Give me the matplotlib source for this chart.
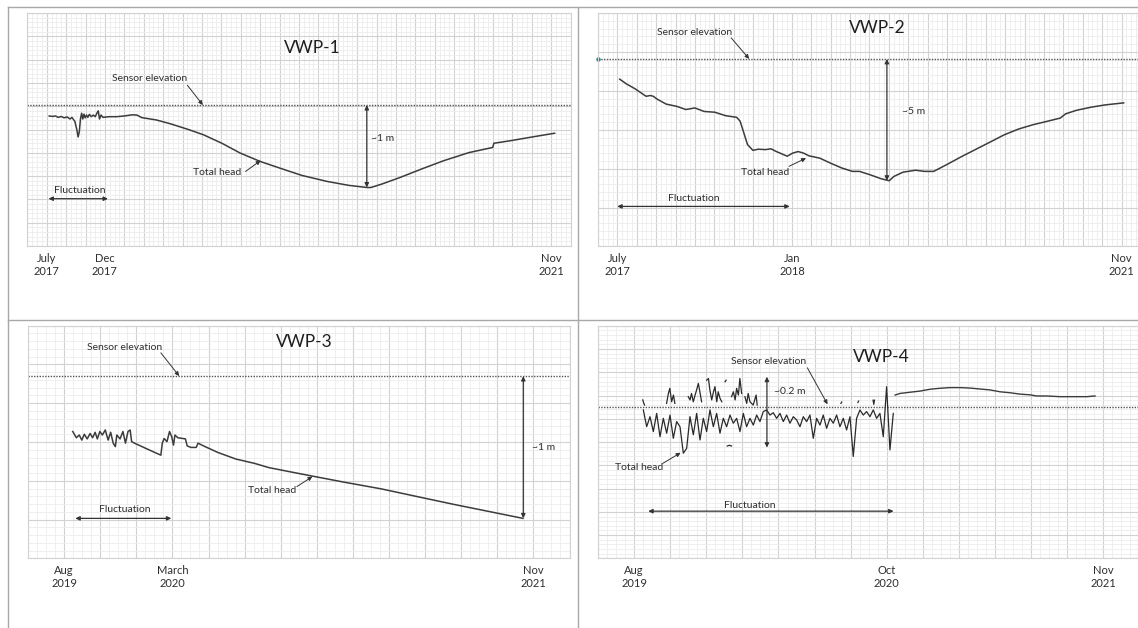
import numpy as np
import matplotlib.pyplot as plt
from matplotlib.ticker import MultipleLocator, AutoMinorLocator, FuncFormatter
from matplotlib.lines import Line2D

plt.rcParams['font.family'] = ['Lato', 'DejaVu Sans']

# ---- data (x in grid columns, y in grid rows of each panel) ----
# VWP-1
p1_x = [1.13, 1.3, 1.45, 1.6, 1.75, 1.9, 2.05, 2.2, 2.3, 2.45, 2.55, 2.62, 2.68, 2.74, 2.80,
        2.86, 2.92, 2.98, 3.05, 3.12, 3.2, 3.3, 3.4, 3.5, 3.6, 3.66, 3.72, 3.8, 3.9, 4.2,
        4.6, 5.0, 5.4, 5.65, 5.9, 6.65, 7.40, 8.34, 9.09, 10.03, 10.97, 12.00, 13.03, 14.15,
        15.46, 16.59, 17.53, 17.71, 18.28, 19.21, 20.34, 21.46, 22.77, 23.99, 24.05, 24.84,
        25.96, 27.18]
p1_y = [5.58, 5.56, 5.58, 5.52, 5.56, 5.50, 5.54, 5.45, 5.52, 5.35, 5.00, 4.68, 4.90, 5.45, 5.70,
        5.45, 5.66, 5.50, 5.62, 5.52, 5.65, 5.55, 5.62, 5.55, 5.72, 5.80, 5.45, 5.62, 5.52, 5.55,
        5.55, 5.58, 5.63, 5.62, 5.51, 5.41, 5.24, 4.99, 4.77, 4.41, 3.99, 3.63, 3.34, 3.03,
        2.77, 2.60, 2.51, 2.51, 2.66, 2.94, 3.31, 3.66, 4.01, 4.23, 4.41, 4.51,
        4.67, 4.84]
sensor1 = 6.05

# VWP-2
p2_x = [1.12, 1.46, 1.92, 2.48, 2.70, 2.85, 3.04, 3.51, 4.07, 4.53, 5.00, 5.47, 6.03, 6.59,
        7.15, 7.33, 7.52, 7.71, 7.99, 8.26, 8.64, 8.92, 9.20, 9.48, 9.76, 10.04, 10.32,
        10.60, 10.88, 11.44, 12.00, 12.56, 13.12, 13.49, 14.05, 14.61, 15.02, 15.26, 15.73,
        16.38, 16.85, 17.31, 17.97, 18.71, 19.46, 20.21, 20.95, 21.70, 22.44, 23.19, 23.84,
        24.12, 24.68, 25.43, 26.18, 27.11]
p2_y = [4.30, 4.18, 4.05, 3.86, 3.88, 3.86, 3.79, 3.66, 3.60, 3.52, 3.56, 3.47, 3.45, 3.36,
        3.32, 3.22, 2.92, 2.62, 2.47, 2.50, 2.49, 2.51, 2.44, 2.38, 2.32, 2.40, 2.44,
        2.40, 2.33, 2.27, 2.14, 2.02, 1.93, 1.93, 1.84, 1.74, 1.69, 1.80, 1.91,
        1.96, 1.93, 1.93, 2.10, 2.30, 2.49, 2.68, 2.87, 3.02, 3.13, 3.22, 3.30,
        3.41, 3.50, 3.58, 3.64, 3.69]
sensor2 = 4.82

# VWP-3
p3_x = [1.24, 1.34, 1.42, 1.49, 1.56, 1.64, 1.72, 1.79, 1.86, 1.92, 1.99, 2.06, 2.14, 2.22,
        2.29, 2.36, 2.42, 2.46, 2.55, 2.63, 2.70, 2.77, 2.83, 2.87, 2.95, 3.30, 3.68, 3.72,
        3.77, 3.85, 3.92, 3.98, 4.03, 4.07, 4.15, 4.36, 4.41, 4.51, 4.66, 4.71, 4.86, 5.26,
        5.76, 6.27, 6.67, 7.27, 7.88, 8.78, 9.79, 10.79, 11.80, 12.81, 13.71]
p3_y = [3.27, 3.11, 3.18, 3.05, 3.20, 3.08, 3.22, 3.11, 3.25, 3.08, 3.27, 3.18, 3.31, 3.05,
        3.25, 2.97, 2.88, 3.18, 3.08, 3.27, 2.97, 3.27, 3.31, 3.01, 2.97, 2.82, 2.66, 2.97,
        3.09, 3.01, 3.27, 3.14, 2.92, 3.18, 3.11, 3.08, 2.90, 2.86, 2.86, 2.97, 2.90, 2.73,
        2.56, 2.45, 2.34, 2.23, 2.12, 1.96, 1.79, 1.59, 1.39, 1.20, 1.03]
sensor3 = 4.70

# VWP-4 : noisy record (evenly sampled), fragments above sensor, and later smooth record
p4_noisy_y = [6.38, 5.66, 6.09, 5.45, 6.23, 5.23, 6.02, 5.38, 6.16, 5.16, 5.88, 5.66, 4.52, 4.73,
              6.09, 5.31, 6.23, 5.09, 6.02, 5.45, 6.38, 5.66, 6.23, 5.38, 6.02, 5.66, 6.16, 5.81,
              6.02, 5.45, 6.23, 5.66, 6.02, 5.73, 6.16, 5.88, 6.31, 6.38, 6.16, 6.26, 6.02, 6.23,
              5.88, 6.16, 5.81, 6.09, 5.95, 5.66, 6.09, 5.88, 6.16, 5.16, 6.02, 5.73, 6.16, 5.59,
              6.02, 5.81, 6.16, 5.66, 6.02, 5.52, 6.09, 4.38, 6.02, 6.38, 6.16, 6.31, 6.09, 6.38,
              6.02, 6.23, 5.23, 7.38, 4.66, 6.23]
p4_noisy_start, p4_noisy_end = 1.256, 8.18
p4_frag_x = [1.24, 1.27, 1.29, np.nan,
             1.90, 1.95, 1.99, 2.04, 2.09, 2.13, np.nan,
             2.50, 2.55, 2.59, 2.64, 2.69, 2.73, 2.78, 2.83, 2.87, np.nan,
             3.01, 3.06, 3.10, 3.15, 3.20, 3.24, 3.29, 3.33, 3.38, 3.43, np.nan,
             3.52, 3.55, np.nan,
             3.58, 3.64, 3.70, np.nan,
             3.70, 3.75, 3.80, 3.84, 3.89, 3.93, 3.98, np.nan,
             4.07, 4.12, 4.16, 4.21, 4.30, 4.38, 4.41, np.nan,
             6.73, 6.75, np.nan, 7.20, 7.22, np.nan, 7.62, 7.64, 7.66]
p4_frag_y = [6.81, 6.66, 6.59, np.nan,
             6.66, 7.09, 7.31, 6.73, 7.02, 6.66, np.nan,
             6.95, 6.81, 7.09, 6.73, 7.02, 7.23, 7.52, 7.09, 6.73, np.nan,
             7.66, 7.73, 7.23, 6.81, 7.16, 7.38, 6.73, 7.16, 6.88, 6.73, np.nan,
             7.59, 7.66, np.nan,
             4.83, 4.86, 4.83, np.nan,
             6.95, 7.16, 6.81, 7.31, 7.02, 7.73, 7.09, np.nan,
             6.95, 6.66, 7.09, 6.73, 6.59, 7.02, 6.59, np.nan,
             6.66, 6.72, np.nan, 6.70, 6.76, np.nan, 6.80, 6.62, 6.80]
p4_smooth_x = [8.23, 8.37, 8.64, 8.92, 9.20, 9.47, 9.75, 10.03, 10.30, 10.58, 10.86, 11.14,
               11.41, 11.69, 11.97, 12.15, 12.43, 12.80, 13.17, 13.54, 13.77]
p4_smooth_y = [7.02, 7.09, 7.14, 7.19, 7.27, 7.31, 7.34, 7.34, 7.32, 7.28, 7.24, 7.16,
               7.12, 7.06, 7.03, 6.98, 6.98, 6.95, 6.95, 6.95, 6.98]
sensor4 = 6.52

# tick labels (grid column -> label)
ticks1 = {1: 'July\n2017', 4: 'Dec\n2017', 27: 'Nov\n2021'}
ticks2 = {1: 'July\n2017', 10: 'Jan\n2018', 27: 'Nov\n2021'}
ticks3 = {1: 'Aug\n2019', 4: 'March\n2020', 14: 'Nov\n2021'}
ticks4 = {1: 'Aug\n2019', 8: 'Oct\n2020', 14: 'Nov\n2021'}

# ---- figure ----
W, H = 1138, 628
fig = plt.figure(figsize=(W / 100, H / 100), dpi=100)

LINE = '#3c3c3c'
TXT = '#2e2e2e'
FS = 7.5


def panel(left, top, right, bottom, xmax, nrows, tick_map):
    ax = fig.add_axes([left / W, 1 - bottom / H, (right - left) / W, (bottom - top) / H])
    ax.set_xlim(0, xmax)
    ax.set_ylim(0, nrows)
    ax.xaxis.set_major_locator(MultipleLocator(1))
    ax.xaxis.set_minor_locator(AutoMinorLocator(4))
    ax.yaxis.set_major_locator(MultipleLocator(1))
    ax.yaxis.set_minor_locator(AutoMinorLocator(5))
    ax.grid(which='major', color='#d2d2d2', lw=0.8)
    ax.grid(which='minor', color='#ececec', lw=0.6)
    ax.set_axisbelow(True)
    ax.xaxis.set_major_formatter(FuncFormatter(lambda v, p: tick_map.get(int(round(v)), '')))
    ax.tick_params(which='both', length=0, labelleft=False, labelsize=8,
                   labelcolor=TXT, pad=5)
    for s in ax.spines.values():
        s.set_color('#d2d2d2')
        s.set_linewidth(0.8)
    return ax


def note(ax, text, xy, xytext, tx, ty):
    ax.text(tx, ty, text, fontsize=FS, color=TXT, ha='center', va='center')
    ax.annotate('', xy=xy, xytext=xytext,
                arrowprops=dict(arrowstyle='-|>,head_length=0.25,head_width=0.12',
                                color='#333333', lw=0.7, shrinkA=0, shrinkB=0))


def span(ax, p0, p1):
    ax.annotate('', xy=p1, xytext=p0,
                arrowprops=dict(arrowstyle='<|-|>,head_length=0.25,head_width=0.12',
                                color='#333333', lw=0.9, shrinkA=0, shrinkB=0))


def sensor(ax, level):
    ax.axhline(level, color='#555555', lw=1.0, ls=(0, (1, 1)))


# VWP-1
ax1 = panel(27.3, 13, 570.5, 246, 28, 10, ticks1)
sensor(ax1, sensor1)
ax1.plot(p1_x, p1_y, color=LINE, lw=1.1)
i1 = int(np.argmin(p1_y))
span(ax1, (p1_x[i1] - 0.03, sensor1), (p1_x[i1] - 0.03, p1_y[i1]))
ax1.text(18.3, 4.63, '~1 m', fontsize=FS, color=TXT, ha='center', va='center')
ax1.text(14.7, 8.5, 'VWP-1', fontsize=12.5, color='#1e1e1e', ha='center', va='center')
note(ax1, 'Sensor elevation', (9.05, sensor1), (8.25, 6.9), 6.28, 7.17)
note(ax1, 'Total head', (12.03, 3.67), (11.25, 3.2), 9.78, 3.14)
ax1.text(2.68, 2.4, 'Fluctuation', fontsize=FS, color=TXT, ha='center', va='center')
span(ax1, (1.09, 2.03), (4.16, 2.03))

# VWP-2
ax2 = panel(598, 13, 1138, 246.5, 27.85, 6, ticks2)
sensor(ax2, sensor2)
ax2.plot([0], [sensor2], marker='o', ms=2.2, color='#1f8f86', clip_on=False)
ax2.plot(p2_x, p2_y, color=LINE, lw=1.1)
i2 = int(np.argmin(p2_y))
span(ax2, (14.9, sensor2), (14.9, p2_y[i2]))
ax2.text(16.3, 3.47, '~5 m', fontsize=FS, color=TXT, ha='center', va='center')
ax2.text(14.42, 5.61, 'VWP-2', fontsize=12.5, color='#1e1e1e', ha='center', va='center')
note(ax2, 'Sensor elevation', (7.8, sensor2), (6.87, 5.36), 4.96, 5.49)
note(ax2, 'Total head', (10.73, 2.27), (9.85, 2.06), 8.64, 1.9)
ax2.text(4.96, 1.24, 'Fluctuation', fontsize=FS, color=TXT, ha='center', va='center')
span(ax2, (0.99, 1.03), (9.89, 1.03))

# VWP-3
ax3 = panel(28, 325.7, 569.5, 558.3, 15, 6, ticks3)
sensor(ax3, sensor3)
ax3.plot(p3_x, p3_y, color=LINE, lw=1.1)
span(ax3, (p3_x[-1] + 0.01, sensor3), (p3_x[-1] + 0.01, p3_y[-1]))
ax3.text(14.27, 2.86, '~1 m', fontsize=FS, color=TXT, ha='center', va='center')
ax3.text(7.66, 5.57, 'VWP-3', fontsize=12.5, color='#1e1e1e', ha='center', va='center')
note(ax3, 'Sensor elevation', (4.19, sensor3), (3.68, 5.3), 2.67, 5.43)
note(ax3, 'Total head', (7.88, 2.11), (7.45, 1.85), 6.75, 1.74)
ax3.text(2.68, 1.25, 'Fluctuation', fontsize=FS, color=TXT, ha='center', va='center')
span(ax3, (1.31, 1.03), (3.97, 1.03))

# VWP-4
ax4 = panel(598, 325.7, 1138, 558.4, 14.96, 10, ticks4)
sensor(ax4, sensor4)
p4_noisy_x = np.linspace(p4_noisy_start, p4_noisy_end, len(p4_noisy_y))
ax4.plot(p4_noisy_x, p4_noisy_y, color='#2a2a2a', lw=0.9)
ax4.plot(p4_frag_x, p4_frag_y, color='#2a2a2a', lw=0.9)
ax4.plot(p4_smooth_x, p4_smooth_y, color=LINE, lw=1.0)
span(ax4, (4.68, 7.81), (4.68, 4.76))
ax4.text(5.3, 7.16, '~0.2 m', fontsize=FS, color=TXT, ha='center', va='center')
ax4.text(7.84, 8.64, 'VWP-4', fontsize=12.5, color='#1e1e1e', ha='center', va='center')
note(ax4, 'Sensor elevation', (6.36, sensor4 + 0.1), (5.8, 8.19), 4.73, 8.45)
note(ax4, 'Total head', (2.29, 4.54), (1.79, 4.08), 1.13, 3.9)
ax4.text(4.2, 2.26, 'Fluctuation', fontsize=FS, color=TXT, ha='center', va='center')
span(ax4, (1.39, 2.03), (8.19, 2.03))

# cell frame of the 2x2 layout
frame = dict(color='#a8a8a8', lw=1.0, transform=fig.transFigure)
fig.add_artist(Line2D([8 / W, 1], [1 - 7 / H, 1 - 7 / H], **frame))
fig.add_artist(Line2D([8 / W, 8 / W], [0, 1 - 7 / H], **frame))
fig.add_artist(Line2D([578 / W, 578 / W], [0, 1 - 7 / H], **frame))
fig.add_artist(Line2D([8 / W, 1], [1 - 320 / H, 1 - 320 / H], **frame))

fig.savefig('out.png', dpi=100)
